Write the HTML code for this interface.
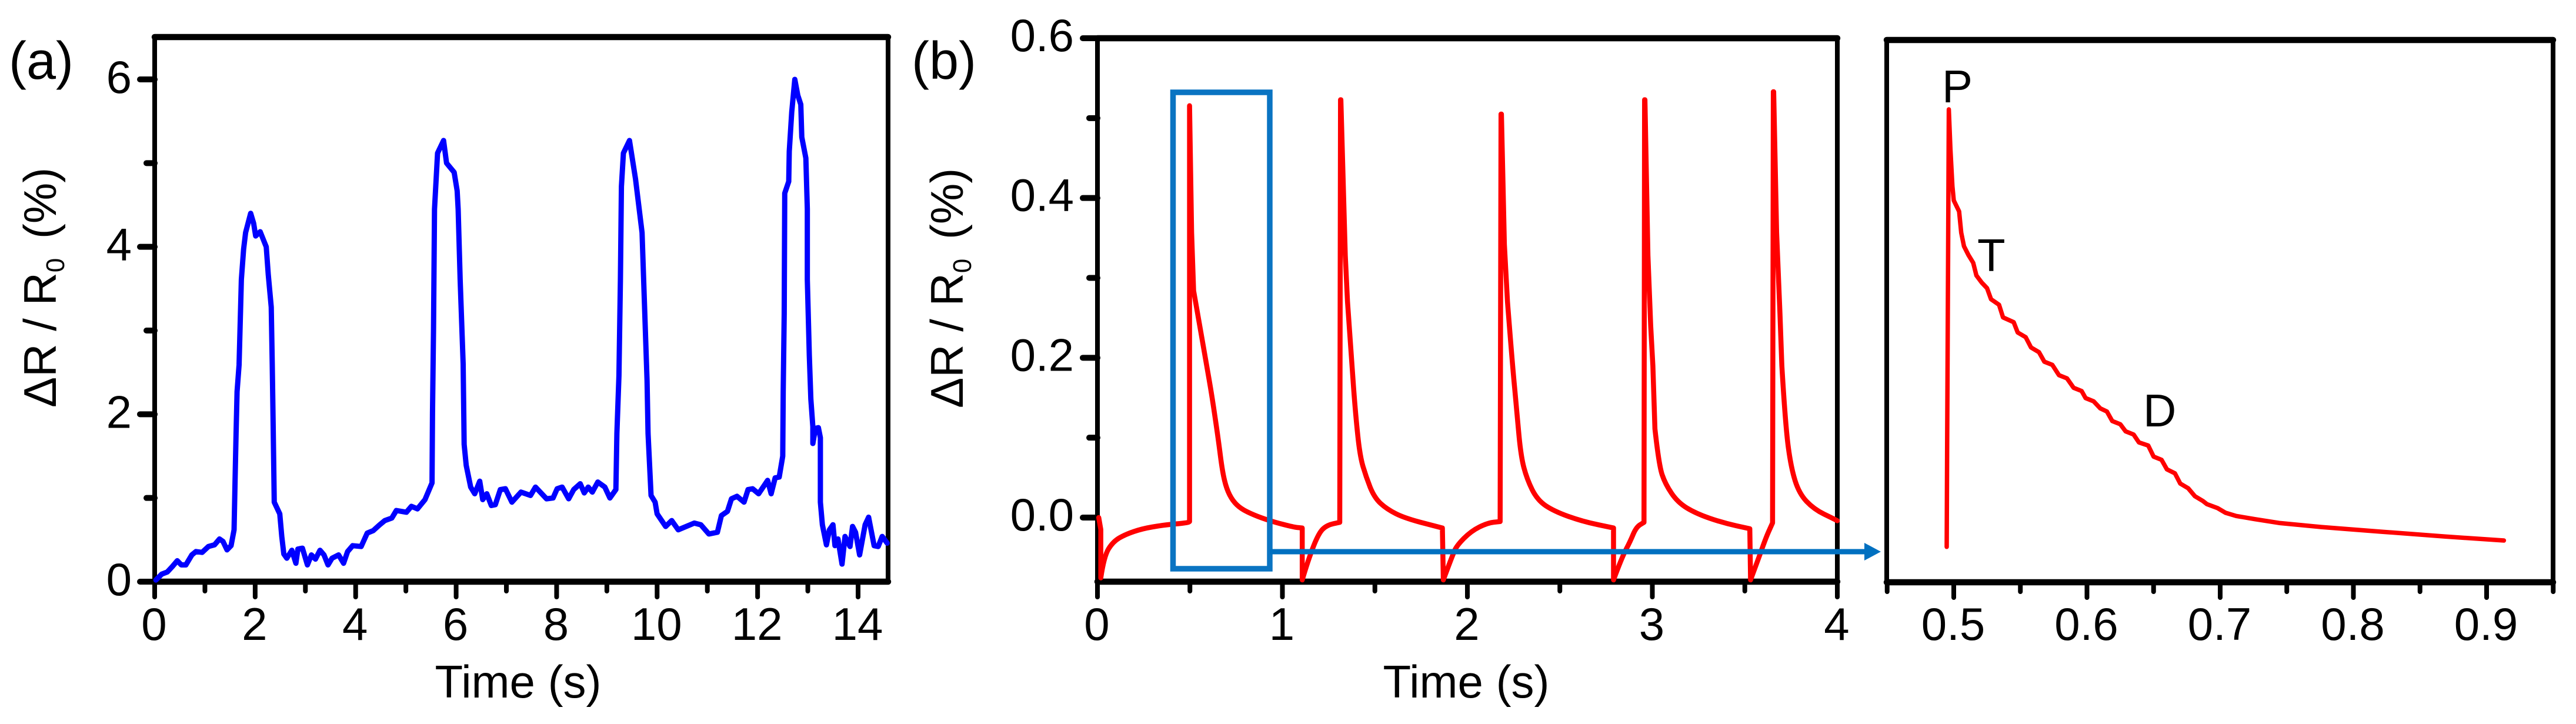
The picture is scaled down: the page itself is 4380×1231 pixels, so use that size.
<!DOCTYPE html>
<html lang="en">
<head>
<meta charset="utf-8">
<title>Resistance change over time</title>
<style>
html,body{margin:0;padding:0;background:#fff;width:4380px;height:1231px;overflow:hidden}
svg{display:block}
text{font-family:"Liberation Sans",sans-serif;fill:#000}
</style>
</head>
<body>
<svg id="figure" xmlns="http://www.w3.org/2000/svg" width="4380" height="1231" viewBox="0 0 4380 1231">
  <rect width="4380" height="1231" fill="#fff"/>
  <text x="15" y="134" font-size="90">(a)</text>
  <text x="1550" y="134" font-size="90">(b)</text>
  <text transform="translate(95,693) rotate(-90)" font-size="78">ΔR / R<tspan font-size="44" dy="14">0</tspan><tspan dy="-14" dx="11"> (%)</tspan></text>
  <text transform="translate(1637,694) rotate(-90)" font-size="78">ΔR / R<tspan font-size="44" dy="14">0</tspan><tspan dy="-14" dx="11"> (%)</tspan></text>
  <text x="881" y="1186" font-size="78" text-anchor="middle">Time (s)</text>
  <text x="2493" y="1186" font-size="78" text-anchor="middle">Time (s)</text>
  <g id="marks"></g>
  <rect x="1994.5" y="157" width="164.5" height="810" fill="none" stroke="#0a74c2" stroke-width="9.5"/>
  <line x1="2159" y1="938" x2="3172" y2="938" stroke="#0070c0" stroke-width="9"/>
  <polygon points="3170,923 3198,938 3170,953" fill="#0070c0"/>
  <text x="3302" y="174" font-size="78">P</text>
  <text x="3362" y="461" font-size="78">T</text>
  <text x="3644" y="725" font-size="78">D</text>
</svg>
<script>
var blueTimes = [0.025,0.14,0.25,0.35,0.45,0.53,0.62,0.74,0.82,0.945,1.07,1.19,1.29,1.36,1.44,1.52,1.58,1.60,1.62,1.64,1.68,1.725,1.77,1.81,1.91,1.97,2.01,2.1,2.22,2.26,2.32,2.34,2.36,2.38,2.49,2.53,2.57,2.63,2.73,2.81,2.85,2.94,3.04,3.12,3.2,3.29,3.37,3.45,3.53,3.66,3.76,3.84,3.94,4.11,4.23,4.35,4.48,4.58,4.72,4.81,5.01,5.11,5.23,5.38,5.52,5.53,5.55,5.57,5.63,5.75,5.81,5.96,6.02,6.04,6.08,6.14,6.16,6.2,6.29,6.37,6.47,6.53,6.61,6.70,6.78,6.88,6.98,7.11,7.29,7.48,7.58,7.8,7.93,8.01,8.11,8.24,8.34,8.47,8.55,8.63,8.71,8.82,8.96,9.06,9.18,9.2,9.24,9.27,9.29,9.33,9.45,9.57,9.7,9.8,9.82,9.88,9.96,10.0,10.17,10.29,10.42,10.74,10.87,11.03,11.2,11.28,11.4,11.48,11.59,11.73,11.81,11.9,12.02,12.2,12.27,12.35,12.43,12.5,12.51,12.53,12.54,12.62,12.63,12.68,12.74,12.8,12.86,12.88,12.96,12.99,12.99,13.03,13.06,13.1,13.1,13.15,13.21,13.25,13.25,13.29,13.37,13.43,13.5,13.54,13.6,13.68,13.74,13.84,13.89,13.95,14.03,14.14,14.21,14.32,14.4,14.48,14.58];
var blueValues = [0.02,0.09,0.115,0.18,0.25,0.2,0.2,0.32,0.36,0.35,0.42,0.44,0.51,0.48,0.38,0.43,0.62,1.21,1.77,2.27,2.59,3.61,3.97,4.17,4.4,4.28,4.13,4.18,4.0,3.67,3.28,2.6,1.8,0.95,0.81,0.54,0.33,0.28,0.375,0.22,0.39,0.40,0.2,0.32,0.27,0.375,0.32,0.2,0.28,0.32,0.22,0.36,0.43,0.42,0.58,0.61,0.68,0.73,0.76,0.85,0.83,0.90,0.87,0.98,1.18,2.02,3.0,4.45,5.12,5.27,5.0,4.89,4.67,4.45,3.61,2.6,1.64,1.39,1.13,1.05,1.2,0.98,1.05,0.91,0.92,1.1,1.11,0.95,1.07,1.03,1.13,0.99,1.0,1.11,1.13,0.99,1.1,1.17,1.06,1.13,1.07,1.19,1.13,1.0,1.1,1.77,2.46,3.61,4.72,5.12,5.27,4.81,4.17,2.4,1.77,1.03,0.95,0.81,0.66,0.73,0.62,0.70,0.68,0.57,0.59,0.79,0.84,0.99,1.02,0.95,1.1,1.11,1.05,1.21,1.05,1.24,1.25,1.5,2.27,3.2,4.64,4.78,5.14,5.61,6.0,5.81,5.7,5.31,5.06,4.45,3.61,2.7,2.18,1.85,1.65,1.83,1.84,1.72,0.95,0.68,0.44,0.62,0.68,0.43,0.51,0.21,0.54,0.42,0.66,0.59,0.32,0.68,0.77,0.43,0.42,0.54,0.46];
var redTimes = [0.007,0.018,0.018,0.036,0.085,0.152,0.241,0.352,0.486,0.498,0.498,0.509,0.52,0.553,0.587,0.62,0.654,0.676,0.698,0.731,0.776,0.843,0.93,1.06,1.107,1.107,1.14,1.196,1.24,1.31,1.314,1.316,1.34,1.352,1.374,1.396,1.419,1.452,1.497,1.564,1.664,1.865,1.87,1.92,1.943,2.02,2.11,2.177,2.182,2.184,2.2,2.217,2.244,2.267,2.289,2.322,2.378,2.467,2.624,2.79,2.79,2.835,2.88,2.913,2.955,2.958,2.96,2.976,2.991,3.003,3.014,3.036,3.07,3.137,3.237,3.382,3.527,3.531,3.572,3.616,3.65,3.654,3.656,3.672,3.69,3.70,3.72,3.75,3.794,3.873,3.984,4.0];
var redValues = [0,-0.015,-0.0755,-0.048,-0.03,-0.021,-0.014,-0.0095,-0.0066,-0.005,0.5155,0.357,0.284,0.24,0.195,0.151,0.097,0.057,0.036,0.021,0.011,0.0034,-0.004,-0.012,-0.013,-0.078,-0.0525,-0.0195,-0.0095,-0.006,0.523,0.523,0.328,0.27,0.195,0.128,0.077,0.051,0.025,0.0106,-0.001,-0.013,-0.078,-0.047,-0.035,-0.017,-0.0066,-0.005,0.505,0.505,0.342,0.27,0.19,0.134,0.077,0.048,0.022,0.008,-0.005,-0.013,-0.078,-0.05,-0.03,-0.012,-0.006,0.523,0.523,0.328,0.24,0.19,0.111,0.065,0.042,0.019,0.005,-0.0066,-0.014,-0.078,-0.0525,-0.024,-0.0066,0.533,0.533,0.357,0.255,0.19,0.114,0.062,0.03,0.0106,-0.002,-0.004];
var insetTimes = [0.4947,0.495,0.4957,0.4963,0.4975,0.499,0.5,0.504,0.5056,0.5077,0.511,0.5146,0.517,0.521,0.525,0.528,0.534,0.537,0.545,0.548,0.554,0.558,0.564,0.568,0.574,0.579,0.585,0.59,0.596,0.599,0.605,0.61,0.615,0.619,0.625,0.629,0.635,0.639,0.646,0.65,0.656,0.66,0.666,0.67,0.676,0.681,0.687,0.69,0.698,0.704,0.712,0.726,0.745,0.776,0.822,0.869,0.913];
var insetValues = [-0.038,0.082,0.318,0.515,0.465,0.418,0.40,0.386,0.359,0.342,0.331,0.321,0.305,0.296,0.289,0.275,0.268,0.252,0.246,0.233,0.227,0.214,0.208,0.196,0.192,0.179,0.175,0.163,0.159,0.15,0.146,0.137,0.133,0.121,0.117,0.108,0.104,0.094,0.09,0.076,0.072,0.06,0.055,0.042,0.036,0.026,0.02,0.016,0.011,0.005,0.001,-0.003,-0.008,-0.013,-0.019,-0.025,-0.03];

var panelAXMajorTicks = [0,2,4,6,8,10,12,14];
var panelAXMinorTicks = [1,3,5,7,9,11,13];
var panelAYMajorTicks = [0,2,4,6];
var panelAYMinorTicks = [1,3,5];
var panelBXMajorTicks = [0,1,2,3,4];
var panelBXMinorTicks = [0.5,1.5,2.5,3.5];
var panelBYMajorTicks = [0,0.2,0.4,0.6];
var panelBYMinorTicks = [0.1,0.3,0.5];
var panelCXMajorTicks = [0.5,0.6,0.7,0.8,0.9];
var panelCXMinorTicks = [0.45,0.55,0.65,0.75,0.85,0.95];

var NS = 'http://www.w3.org/2000/svg';
var marks = document.getElementById('marks');

function linearScale(d0, d1, r0, r1) {
  return function (v) { return r0 + (v - d0) * (r1 - r0) / (d1 - d0); };
}

var panelAX = linearScale(0, 14, 263, 1459);
var panelAY = linearScale(0, 6, 989, 135);
var panelBX = linearScale(0, 4, 1866, 3124);
var panelBY = linearScale(0, 0.6, 880, 65);
var panelCX = linearScale(0.5, 0.9, 3322, 4228);
var panelCY = linearScale(-0.03, 0.515, 919, 186);

function makeLine(x1, y1, x2, y2, width, name) {
  var el = document.createElementNS(NS, 'line');
  el.setAttribute('x1', x1);
  el.setAttribute('y1', y1);
  el.setAttribute('x2', x2);
  el.setAttribute('y2', y2);
  el.setAttribute('stroke', '#000');
  el.setAttribute('stroke-width', width);
  el.setAttribute('stroke-linecap', 'round');
  
  
  marks.appendChild(el);
}

function makeLabel(x, y, anchor, content, name) {
  var el = document.createElementNS(NS, 'text');
  el.setAttribute('x', x);
  el.setAttribute('y', y);
  el.setAttribute('text-anchor', anchor);
  el.setAttribute('font-size', '78');
  
  
  el.textContent = content;
  marks.appendChild(el);
}

function isSteepJump(xs, ys, times, values, a, b) {
  return Math.abs(ys(values[b]) - ys(values[a])) > 60 && Math.abs(xs(times[b]) - xs(times[a])) < 6;
}

function makeCurve(times, values, xs, ys, color, width, smooth, name) {
  var d = 'M' + xs(times[0]).toFixed(1) + ' ' + ys(values[0]).toFixed(1);
  for (var i = 1; i < times.length; i++) {
    var px = xs(times[i]);
    var py = ys(values[i]);
    var isLast = i === times.length - 1;
    var isSharp = isLast || (values[i] - values[i - 1]) * (values[i + 1] - values[i]) <= 0 ||
      isSteepJump(xs, ys, times, values, i - 1, i) || isSteepJump(xs, ys, times, values, i, i + 1);
    if (!smooth || isSharp) {
      d += 'L' + px.toFixed(1) + ' ' + py.toFixed(1);
    } else {
      var mx = (px + xs(times[i + 1])) / 2;
      var my = (py + ys(values[i + 1])) / 2;
      d += 'Q' + px.toFixed(1) + ' ' + py.toFixed(1) + ' ' + mx.toFixed(1) + ' ' + my.toFixed(1);
    }
  }
  var el = document.createElementNS(NS, 'path');
  el.setAttribute('d', d);
  el.setAttribute('fill', 'none');
  el.setAttribute('stroke', color);
  el.setAttribute('stroke-width', width);
  el.setAttribute('stroke-linejoin', 'round');
  el.setAttribute('stroke-linecap', 'round');
  
  
  marks.appendChild(el);
}

function drawFrame(left, right, top, bottom, prefix) {
  makeLine(left, top, right, top, 10.5, prefix + '-top-axis');
  makeLine(left, bottom, right, bottom, 10.5, prefix + '-x-axis');
  makeLine(left, top, left, bottom, 8, prefix + '-y-axis');
  makeLine(right, top, right, bottom, 8, prefix + '-right-axis');
}

function drawXTicks(majors, minors, xs, bottom, digits, prefix) {
  majors.forEach(function (t) {
    makeLine(xs(t), bottom, xs(t), bottom + 26, 8, prefix + '-x-tick');
    makeLabel(xs(t) - 1, 1088, 'middle', t.toFixed(digits), prefix + '-x-tick-label');
  });
  minors.forEach(function (t) {
    makeLine(xs(t), bottom, xs(t), bottom + 16, 8, prefix + '-x-minor-tick');
  });
}

function drawYTicks(majors, minors, ys, left, right, digits, offset, prefix) {
  majors.forEach(function (v) {
    makeLine(left - 25, ys(v), left, ys(v), 10, prefix + '-y-tick');
    makeLabel(right, ys(v) + offset, 'end', v.toFixed(digits), prefix + '-y-tick-label');
  });
  minors.forEach(function (v) {
    makeLine(left - 14, ys(v), left, ys(v), 10, prefix + '-y-minor-tick');
  });
}

drawFrame(263, 1510, 63, 989, 'panel-a');
drawXTicks(panelAXMajorTicks, panelAXMinorTicks, panelAX, 989, 0, 'panel-a');
drawYTicks(panelAYMajorTicks, panelAYMinorTicks, panelAY, 263, 224, 0, 23, 'panel-a');
makeCurve(blueTimes, blueValues, panelAX, panelAY, '#0000ff', 9, false, 'panel-a-blue-trace');

drawFrame(1866, 3124, 65, 989, 'panel-b');
drawXTicks(panelBXMajorTicks, panelBXMinorTicks, panelBX, 989, 0, 'panel-b');
drawYTicks(panelBYMajorTicks, panelBYMinorTicks, panelBY, 1866, 1826, 1, 22, 'panel-b');
makeCurve(redTimes, redValues, panelBX, panelBY, '#ff0000', 8.5, true, 'panel-b-red-trace');

drawFrame(3208, 4341, 68, 990, 'panel-c');
drawXTicks(panelCXMajorTicks, panelCXMinorTicks, panelCX, 990, 1, 'panel-c');
makeCurve(insetTimes, insetValues, panelCX, panelCY, '#ff0000', 7.5, false, 'panel-c-red-trace');
</script>
</body>
</html>
